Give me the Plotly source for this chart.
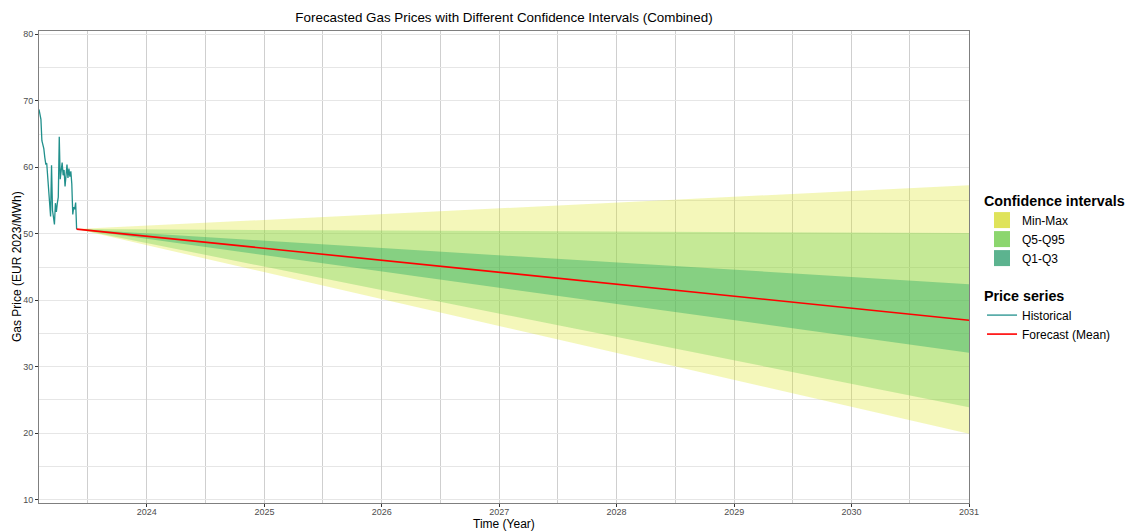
import pandas as pd
import plotly.graph_objects as go

# ---------------- data ----------------
hist_start = "2023-01-31"
hist_values = [68.7, 67.8, 67.2, 64.0, 63.3, 62.8, 61.5, 60.5, 60.6, 58.5,
               57.3, 55.0, 52.6, 60.3, 53.5, 52.5, 51.4, 54.6, 53.3, 54.6,
               55.5, 64.6, 58.2, 59.5, 60.7, 58.8, 59.6, 57.1, 59.0, 60.4,
               58.4, 59.8, 58.6, 59.4, 57.5, 52.9, 54.0, 53.7, 54.7, 50.7]
hist_dates = pd.date_range(hist_start, periods=len(hist_values), freq="3D")

fc_dates = ["2023-05-28", "2031-01-01"]
fc_mean = [50.7, 37.0]
minmax_low = [50.7, 19.9]
minmax_high = [50.7, 57.3]
q5_low = [50.7, 23.9]
q95_high = [50.7, 50.1]
q1_low = [50.7, 32.1]
q3_high = [50.7, 42.4]

band_names = ["Min-Max", "Q5-Q95", "Q1-Q3"]
band_fill = ["rgba(220,227,25,0.30)", "rgba(115,208,85,0.36)", "rgba(40,170,100,0.40)"]
band_key = ["#DFE35A", "#8CD66E", "#5CB38F"]
bands = [(minmax_low, minmax_high), (q5_low, q95_high), (q1_low, q3_high)]

x_range = ["2023-01-31", "2031-01-01"]
y_ticks = [10, 20, 30, 40, 50, 60, 70, 80]

FONT = "Liberation Sans, Arial, Helvetica, sans-serif"

fig = go.Figure()

for name, fillc, (lo, hi) in zip(band_names, band_fill, bands):
    fig.add_trace(go.Scatter(
        x=fc_dates + fc_dates[::-1], y=hi + lo[::-1],
        fill="toself", fillcolor=fillc, line=dict(width=0),
        mode="lines", hoverinfo="skip", showlegend=False))

fig.add_trace(go.Scatter(x=hist_dates, y=hist_values, mode="lines",
                         line=dict(color="#21908C", width=1.3),
                         name="Historical", legend="legend2"))
fig.add_trace(go.Scatter(x=fc_dates, y=fc_mean, mode="lines",
                         line=dict(color="#FF0000", width=1.6),
                         name="Forecast (Mean)", legend="legend2"))

# legend keys for bands
for name, kc in zip(band_names, band_key):
    fig.add_trace(go.Scatter(x=[None], y=[None], mode="markers",
                             marker=dict(symbol="square", size=16, color=kc,
                                         line=dict(width=0)),
                             name=name, legend="legend"))

grid_x = "#CFCFCF"
grid_y = "#E6E6E6"

W, H = 1135, 531
L, R, T, B = 39, 166, 31, 28

fig.update_layout(
    width=W, height=H,
    margin=dict(l=L, r=R, t=T, b=B, autoexpand=False),
    paper_bgcolor="white", plot_bgcolor="white",
    font=dict(family=FONT, color="#000000"),
    title=dict(text="Forecasted Gas Prices with Different Confidence Intervals (Combined)",
               x=0.5, xref="paper", y=1 - 17 / H, yref="container",
               yanchor="middle", xanchor="center",
               font=dict(size=13.4, family=FONT, color="#000000")),
    xaxis=dict(type="date", range=x_range, tickformat="%Y", automargin=False,
               dtick="M12", tick0="2024-01-01",
               showgrid=True, gridcolor=grid_x, gridwidth=1,
               minor=dict(dtick="M12", tick0="2023-07-01", showgrid=True,
                          gridcolor=grid_x, gridwidth=1),
               ticks="outside", ticklen=3, tickcolor="#333333",
               ticklabelstandoff=-3,
               tickfont=dict(size=9, color="#4D4D4D"),
               showline=True, linecolor="#7F7F7F", linewidth=1, mirror=True,
               zeroline=False),
    yaxis=dict(range=[9.5, 80.5], tickvals=y_ticks, automargin=False,
               showgrid=True, gridcolor=grid_y, gridwidth=1,
               minor=dict(dtick=10, tick0=15, showgrid=True,
                          gridcolor=grid_y, gridwidth=1),
               ticks="outside", ticklen=3, tickcolor="#333333",
               tickfont=dict(size=9, color="#4D4D4D"),
               showline=True, linecolor="#7F7F7F", linewidth=1, mirror=True,
               zeroline=False),
    annotations=[
        dict(text="Time (Year)", xref="paper", yref="paper", x=0.5,
             y=-(524 - (H - B)) / (H - T - B), xanchor="center", yanchor="middle",
             showarrow=False, font=dict(size=12, family=FONT, color="#000000")),
        dict(text="Gas Price (EUR 2023/MWh)", xref="paper", yref="paper",
             x=-(L - 17) / (W - L - R), y=0.5, textangle=-90,
             xanchor="center", yanchor="middle",
             showarrow=False, font=dict(size=12, family=FONT, color="#000000")),
    ],
    legend=dict(title=dict(text="<b>Confidence intervals</b>", font=dict(size=14.3)),
                x=1.014, xanchor="left", y=(503 - 187) / 472, yanchor="top",
                font=dict(size=12), bgcolor="rgba(0,0,0,0)", tracegroupgap=0,
                itemwidth=30),
    legend2=dict(title=dict(text="<b>Price series</b>", font=dict(size=14.3)),
                 x=1.014, xanchor="left", y=(503 - 282) / 472, yanchor="top",
                 font=dict(size=12), bgcolor="rgba(0,0,0,0)", itemwidth=30),
)

fig.write_html("out.html")
